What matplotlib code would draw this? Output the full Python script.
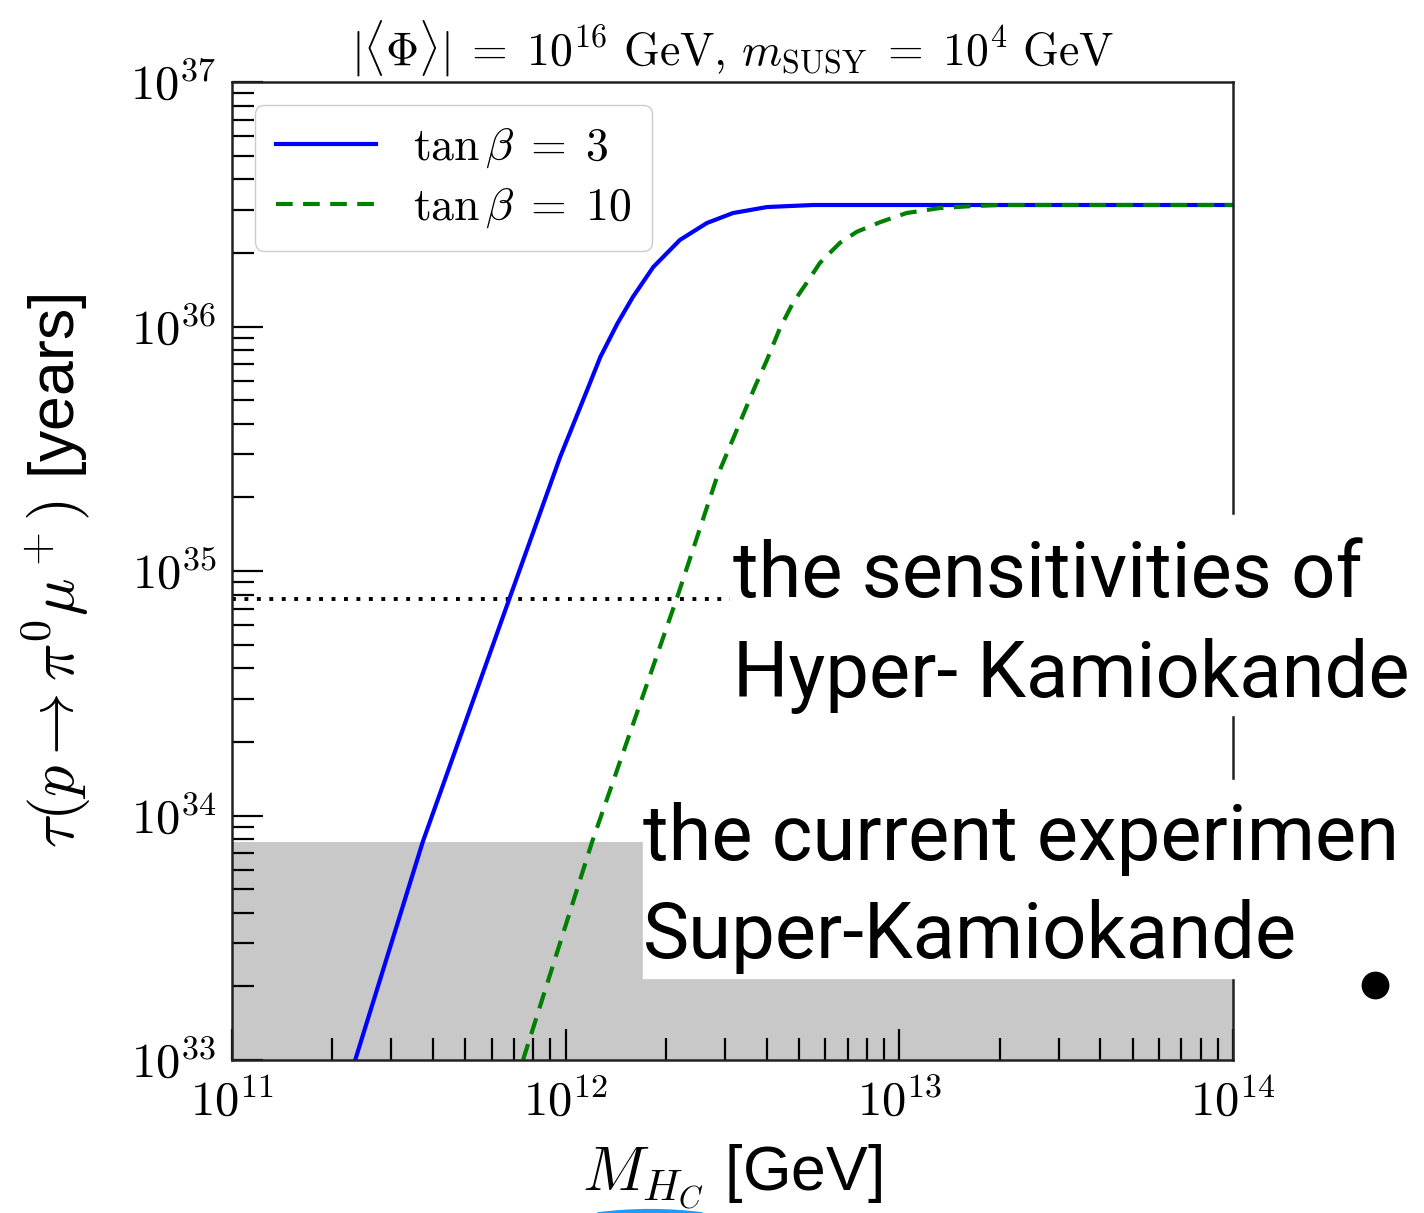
import matplotlib
matplotlib.use("Agg")
import math
import matplotlib.pyplot as plt
from matplotlib.lines import Line2D
from matplotlib.patches import Rectangle, Arc
from matplotlib.ticker import FuncFormatter, NullFormatter

# values
mass_tb3 = [2.34e11, 3.73e11, 6.81e11, 9.62e11, 1.16e12, 1.27e12, 1.43e12, 1.59e12,
            1.83e12, 2.20e12, 2.65e12, 3.17e12, 4.01e12, 5.51e12, 1.0e14]
tau_tb3 = [1.0e33, 7.80e33, 7.83e34, 2.92e35, 5.50e35, 7.50e35, 1.03e36, 1.32e36,
           1.75e36, 2.26e36, 2.65e36, 2.91e36, 3.08e36, 3.14e36, 3.14e36]

mass_tb10 = [7.45e11, 1.20e12, 2.16e12, 2.84e12, 3.69e12, 4.01e12, 4.39e12, 4.80e12,
             5.28e12, 5.78e12, 6.64e12, 7.46e12, 8.75e12, 1.05e13, 1.32e13, 1.66e13,
             2.00e13, 1.0e14]
tau_tb10 = [1.0e33, 7.80e33, 7.83e34, 2.42e35, 5.66e35, 7.29e35, 9.86e35, 1.25e36,
            1.51e36, 1.82e36, 2.20e36, 2.44e36, 2.67e36, 2.91e36, 3.05e36, 3.11e36,
            3.14e36, 3.14e36]

superk_limit = 7.8e33
hyperk_reach = 7.7e34

x_range = (1e11, 1e14)
y_range = (1e33, 1e37)

plt.rcParams["mathtext.fontset"] = "cm"
plt.rcParams["font.family"] = ["Liberation Sans", "DejaVu Sans"]

W, H = 1424, 1213
fig = plt.figure(figsize=(W / 100, H / 100), dpi=100)


def fx(px):
    return px / W


def fy(py):
    return 1 - py / H


ax = fig.add_axes([fx(232), fy(1060), fx(1233) - fx(232), fy(82) - fy(1060)])
ax.set_xscale("log")
ax.set_yscale("log")

ax.fill_between(x_range, y_range[0], superk_limit, color="#c8c8c8", lw=0, zorder=1)
ax.axhline(hyperk_reach, color="black", ls=(0, (1, 2.2)), lw=2.8, zorder=2)
ax.plot(mass_tb3, tau_tb3, color="blue", lw=3.0, label=r"$\tan\beta\;=\;3$", zorder=3)
ax.plot(mass_tb10, tau_tb10, color="green", lw=3.0, ls=(0, (4, 2.5)),
        label=r"$\tan\beta\;=\;10$", zorder=4)

ax.set_xlim(*x_range)
ax.set_ylim(*y_range)

pow_fmt = FuncFormatter(lambda v, p: r"$10^{%d}$" % round(math.log10(v)))
ax.xaxis.set_major_formatter(pow_fmt)
ax.yaxis.set_major_formatter(pow_fmt)
ax.xaxis.set_minor_formatter(NullFormatter())
ax.yaxis.set_minor_formatter(NullFormatter())

ax.tick_params(which="both", direction="in", top=False, right=False,
               labelsize=35, width=1.6, color="black")
ax.tick_params(axis="x", pad=14)
ax.tick_params(axis="y", pad=11)
ax.tick_params(which="major", length=22)
ax.tick_params(which="minor", length=16)
for s in ax.spines.values():
    s.set_linewidth(1.8)
    s.set_color("#222222")
    s.set_zorder(5)

ax.set_title(r"$|\langle\Phi\rangle|\;=\;10^{16}\ \mathrm{GeV},\, m_{\mathrm{SUSY}}\;=\;10^{4}\ \mathrm{GeV}$",
             fontsize=33, pad=12)
ax.set_xlabel(r"$M_{H_C}$ [GeV]", fontsize=45, labelpad=12)
ax.set_ylabel(r"$\tau(p \to \pi^0 \mu^+)$ [years]", fontsize=45, labelpad=26)

leg = ax.legend(loc="upper left", fontsize=33, handlelength=2.2, borderpad=0.45,
                labelspacing=0.35, handletextpad=0.8, fancybox=True,
                edgecolor="#cccccc", framealpha=1.0)

# annotation boxes pasted over the chart
fig.add_artist(Rectangle((fx(730), fy(715)), 1 - fx(730), fy(515) - fy(715),
                         transform=fig.transFigure, color="white", zorder=10))
fig.add_artist(Rectangle((fx(643), fy(978)), 1 - fx(643), fy(780) - fy(978),
                         transform=fig.transFigure, color="white", zorder=10))
note_font = dict(fontsize=56, family="Roboto", color="black", zorder=11, va="baseline")
fig.text(fx(733), fy(597), "the sensitivities of", **note_font)
fig.text(fx(733), fy(697), "Hyper- Kamiokande", **note_font)
fig.text(fx(643), fy(860), "the current experimen", **note_font)
fig.text(fx(643), fy(958), "Super-Kamiokande", **note_font)

fig.add_artist(Line2D([fx(1375)], [fy(985)], marker="o", markersize=19, color="black",
                      transform=fig.transFigure, zorder=11))
fig.add_artist(Arc((fx(650), fy(1306)), 400 / W, 190 / H, theta1=64, theta2=116,
                   transform=fig.transFigure, color="#1e9bff", lw=3, zorder=11))

fig.savefig("out.png", dpi=100)
